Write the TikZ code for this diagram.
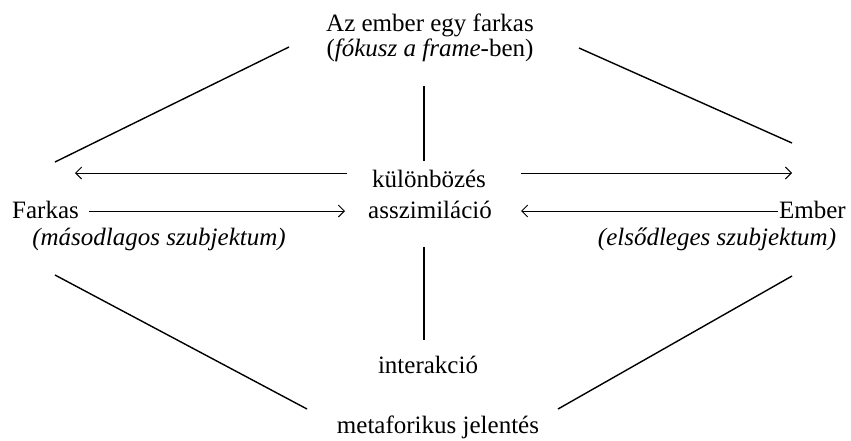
\documentclass[tikz,border=0pt]{standalone}
\usepackage{fontspec}
\setmainfont{Liberation Serif}
\usetikzlibrary{arrows.meta}
\tikzset{
  lbl/.style={inner sep=0pt, anchor=base, font=\fontsize{25}{30}\selectfont},
  edge/.style={line width=1.4pt},
  vline/.style={line width=1.1pt},
  harrow/.style={line width=0.9pt, -{Straight Barb[length=6pt,width=12pt,line width=0.9pt]}}
}
\begin{document}
\begin{tikzpicture}[x=1pt,y=-1pt]
\useasboundingbox (0,0) rectangle (851,440);
% texts
\node[lbl] (title) at (430,31) {Az ember egy farkas};
\node[lbl] (focus) at (430,56) {(\textit{fókusz a frame}-ben)};
\node[lbl] (kul) at (429,187) {különbözés};
\node[lbl] (assz) at (430,218) {asszimiláció};
\node[lbl, anchor=base west] (farkas) at (12,218) {Farkas};
\node[lbl, anchor=base east] (ember) at (846,218) {Ember};
\node[lbl] (masod) at (159,245) {\textit{(másodlagos szubjektum)}};
\node[lbl] (elso) at (717,245) {\textit{(elsődleges szubjektum)}};
\node[lbl] (inter) at (428,373) {interakció};
\node[lbl] (meta) at (438,433) {metaforikus jelentés};
% line end points
\coordinate (ul1) at (55,162);  \coordinate (ul2) at (289,47);
\coordinate (ur1) at (579,48);  \coordinate (ur2) at (792,143);
\coordinate (ll1) at (55,275);  \coordinate (ll2) at (307,409);
\coordinate (lr1) at (558,409); \coordinate (lr2) at (792,276);
\coordinate (vt1) at (424,86);  \coordinate (vt2) at (424,161);
\coordinate (vb1) at (424,247); \coordinate (vb2) at (424,340);
\coordinate (a1s) at (347,173); \coordinate (a1e) at (75,173);
\coordinate (a2s) at (521,173); \coordinate (a2e) at (792,173);
\coordinate (a3s) at (89,211);  \coordinate (a3e) at (345,211);
\coordinate (a4s) at (778,211); \coordinate (a4e) at (521,211);
% diagonals
\draw[edge] (ul1) -- (ul2);
\draw[edge] (ur1) -- (ur2);
\draw[edge] (ll1) -- (ll2);
\draw[edge] (lr1) -- (lr2);
% verticals
\draw[vline] (vt1) -- (vt2);
\draw[vline] (vb1) -- (vb2);
% arrows
\draw[harrow] (a1s) -- (a1e);
\draw[harrow] (a2s) -- (a2e);
\draw[harrow] (a3s) -- (a3e);
\draw[harrow] (a4s) -- (a4e);
\end{tikzpicture}
\end{document}
